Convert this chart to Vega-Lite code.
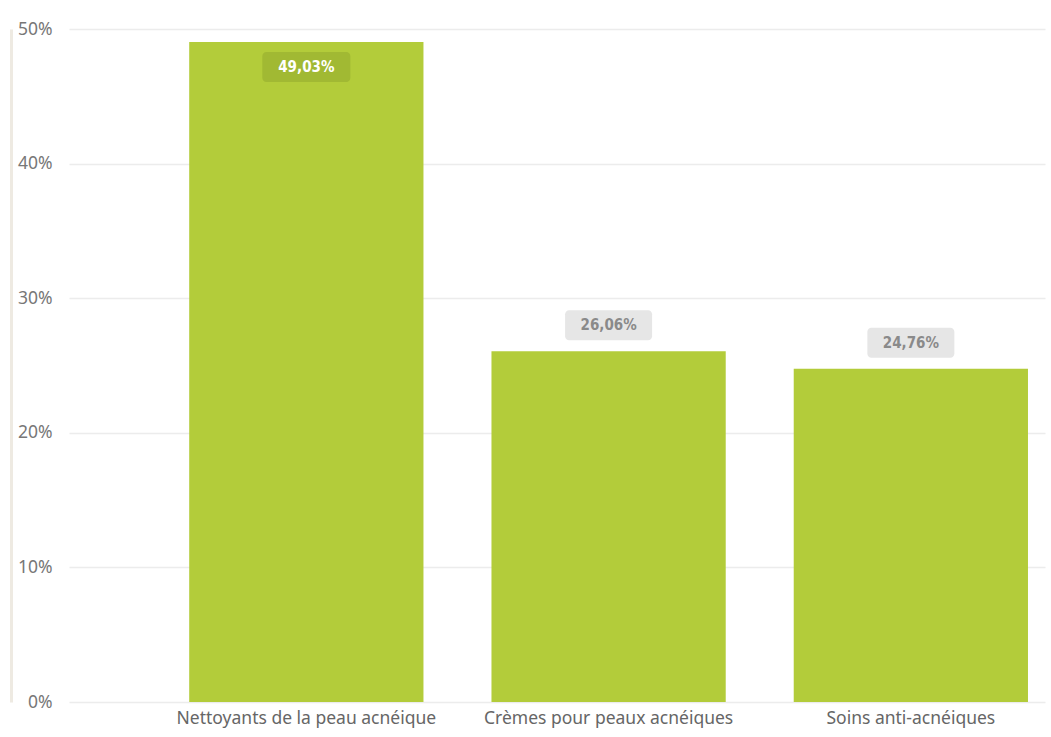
{
  "$schema": "https://vega.github.io/schema/vega-lite/v6.json",
  "width": 976,
  "height": 673,
  "autosize": "none",
  "padding": {"left": 69, "top": 29, "right": 6, "bottom": 35},
  "background": "white",
  "config": {"view": {"stroke": null}},
  "data": {"values": [
    {"category": "Nettoyants de la peau acnéique", "value": 49.03, "label": "49,03%"},
    {"category": "Crèmes pour peaux acnéiques", "value": 26.06, "label": "26,06%"},
    {"category": "Soins anti-acnéiques", "value": 24.76, "label": "24,76%"}
  ]},
  "encoding": {
    "x": {
      "field": "category", "type": "nominal", "sort": null,
      "scale": {"paddingInner": 0.225, "paddingOuter": 0.227, "align": 0.876},
      "axis": {"title": null, "labelAngle": 0, "domain": false, "ticks": false, "labelPadding": 7, "labelLimit": 0,
               "labelFont": "Noto Sans", "labelFontSize": 17.5, "labelColor": "#666666", "labelBaseline": "top"}
    },
    "y": {
      "field": "value", "type": "quantitative",
      "scale": {"domain": [0, 50], "nice": false},
      "axis": {"title": null, "values": [0, 10, 20, 30, 40, 50], "labelExpr": "datum.value + '%'",
               "grid": true, "gridColor": "#ececec", "gridWidth": 1.5,
               "domain": true, "domainColor": "#eeeae2", "domainWidth": 3, "offset": 58,
               "ticks": false, "tickSize": 0, "labelPadding": -41, "labelAlign": "right",
               "labelFont": "Noto Sans", "labelFontSize": 17.5, "labelColor": "#777777"}
    }
  },
  "layer": [
    {"mark": {"type": "bar", "color": "#b3cc3a"}},
    {
      "transform": [{"filter": "datum.value < 40"}],
      "mark": {"type": "bar", "width": 87, "cornerRadius": 4, "color": "#e6e6e6", "yOffset": -11, "y2Offset": -41},
      "encoding": {"y2": {"field": "value"}}
    },
    {
      "transform": [{"filter": "datum.value < 40"}],
      "mark": {"type": "text", "dy": -26, "font": "DejaVu Sans Condensed", "fontWeight": "bold", "fontSize": 15, "color": "#8a8a8a", "baseline": "middle"},
      "encoding": {"text": {"field": "label"}}
    },
    {
      "transform": [{"filter": "datum.value >= 40"}],
      "mark": {"type": "bar", "width": 88, "cornerRadius": 4, "color": "#a1b933", "yOffset": 10, "y2Offset": 40},
      "encoding": {"y2": {"field": "value"}}
    },
    {
      "transform": [{"filter": "datum.value >= 40"}],
      "mark": {"type": "text", "dy": 25, "font": "DejaVu Sans Condensed", "fontWeight": "bold", "fontSize": 15, "color": "#ffffff", "baseline": "middle"},
      "encoding": {"text": {"field": "label"}}
    }
  ]
}
